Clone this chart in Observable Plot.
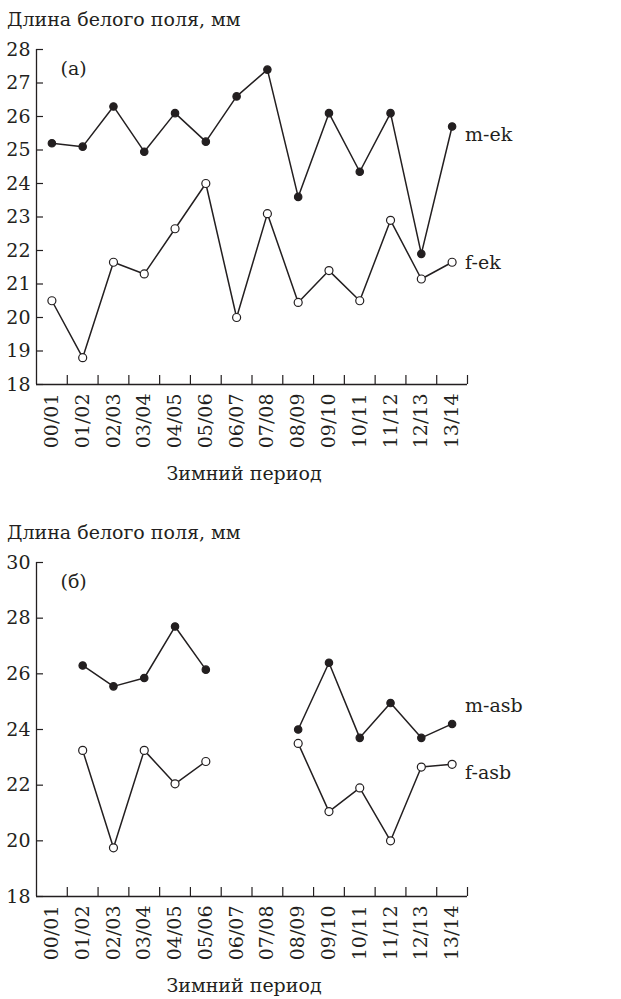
<!DOCTYPE html>
<html><head><meta charset="utf-8">
<script src="https://cdn.jsdelivr.net/npm/d3@7"></script>
<script src="https://cdn.jsdelivr.net/npm/@observablehq/plot@0.6"></script>
<style>
body{margin:0;background:#fff;}
#wrap{position:relative;width:621px;height:999px;font-family:"DejaVu Serif","Liberation Serif",serif;color:#231f20;overflow:hidden;}
.t{position:absolute;font-size:19px;line-height:22px;white-space:nowrap;}
#wrap svg{position:absolute;left:0;}
</style></head><body>
<div id="wrap">
  <div class="t" style="left:7px;top:8px;">Длина белого поля, мм</div>
  <div class="t" style="left:244px;top:462px;transform:translateX(-50%);">Зимний период</div>
  <div class="t" style="left:7px;top:521px;">Длина белого поля, мм</div>
  <div class="t" style="left:244px;top:974px;transform:translateX(-50%);">Зимний период</div>
</div>
<script>
const periods = ["00/01","01/02","02/03","03/04","04/05","05/06","06/07","07/08","08/09","09/10","10/11","11/12","12/13","13/14"];
const mEk  = [25.2, 25.1, 26.3, 24.95, 26.1, 25.25, 26.6, 27.4, 23.6, 26.1, 24.35, 26.1, 21.9, 25.7];
const fEk  = [20.5, 18.8, 21.65, 21.3, 22.65, 24.0, 20.0, 23.1, 20.45, 21.4, 20.5, 22.9, 21.15, 21.65];
const mAsb = [null, 26.3, 25.55, 25.85, 27.7, 26.15, null, null, 24.0, 26.4, 23.7, 24.95, 23.7, 24.2];
const fAsb = [null, 23.25, 19.75, 23.25, 22.05, 22.85, null, null, 23.5, 21.05, 21.9, 20.0, 22.65, 22.75];
const yTicksA = [18, 19, 20, 21, 22, 23, 24, 25, 26, 27, 28];
const yTicksB = [18, 20, 22, 24, 26, 28, 30];

const INK = "#231f20";
const FONT = "'DejaVu Serif', 'Liberation Serif', serif";
const FS = 19;
const W = 621, ML = 36, MR = 154;

function rows(name, values, filled) {
  return periods.map((p, i) => ({series: name, period: p, i, value: values[i], filled}));
}

function panel({series, yDomain, yTicks, height, marginTop, marginBottom, top, tag, labelDy}) {
  const frameH = height - marginTop - marginBottom;
  const frameW = W - ML - MR;
  const pos = d => d.i + 0.5;
  const marks = [
    Plot.ruleY([yDomain[0]], {stroke: INK, strokeWidth: 1.3}),
    Plot.ruleX([0], {stroke: INK, strokeWidth: 1.3}),
    Plot.ruleX(d3.range(1, periods.length + 1), {stroke: INK, strokeWidth: 1.2, insetTop: frameH - 9}),
    Plot.ruleY(yTicks, {stroke: INK, strokeWidth: 1.2, insetRight: frameW - 7}),
    Plot.axisY({ticks: yTicks, tickSize: 0, tickPadding: 6, fill: INK, fontSize: FS}),
    Plot.axisX({ticks: periods.map((p, i) => i + 0.5), tickFormat: d => periods[Math.floor(d)], tickRotate: -90, tickSize: 0, tickPadding: 9, fill: INK, fontSize: FS}),
    Plot.text([tag], {frameAnchor: "top-left", textAnchor: "start", lineAnchor: "middle", dx: 24, dy: 19, fill: INK, fontSize: FS})
  ];
  for (const s of series) {
    const data = rows(s.name, s.values, s.filled);
    marks.push(Plot.line(data, {x: pos, y: "value", stroke: INK, strokeWidth: 1.5}));
    marks.push(Plot.dot(data.filter(d => d.value != null), {x: pos, y: "value", r: s.filled ? 3.7 : 4, fill: s.filled ? INK : "white", stroke: INK, strokeWidth: 1.2}));
    const last = data[data.length - 1];
    marks.push(Plot.text([last], {x: pos, y: "value", text: d => d.series, textAnchor: "start", dx: 13, dy: labelDy[s.name], fill: INK, fontSize: FS}));
  }
  const svg = Plot.plot({
    width: W, height, marginLeft: ML, marginRight: MR, marginTop, marginBottom,
    x: {domain: [0, periods.length], label: null},
    y: {domain: yDomain, label: null},
    style: {fontFamily: FONT, fontSize: FS + "px", color: INK, background: "transparent", overflow: "visible"},
    marks
  });
  svg.style.top = top + "px";
  document.getElementById("wrap").appendChild(svg);
}

panel({
  series: [{name: "m-ek", values: mEk, filled: true}, {name: "f-ek", values: fEk, filled: false}],
  yDomain: [18, 28], yTicks: yTicksA, height: 470, marginTop: 49, marginBottom: 86, top: 0, tag: "(a)",
  labelDy: {"m-ek": 8, "f-ek": 1}
});
panel({
  series: [{name: "m-asb", values: mAsb, filled: true}, {name: "f-asb", values: fAsb, filled: false}],
  yDomain: [18, 30], yTicks: yTicksB, height: 499, marginTop: 62, marginBottom: 103, top: 500, tag: "(б)",
  labelDy: {"m-asb": -18, "f-asb": 9}
});
</script>
</body></html>
